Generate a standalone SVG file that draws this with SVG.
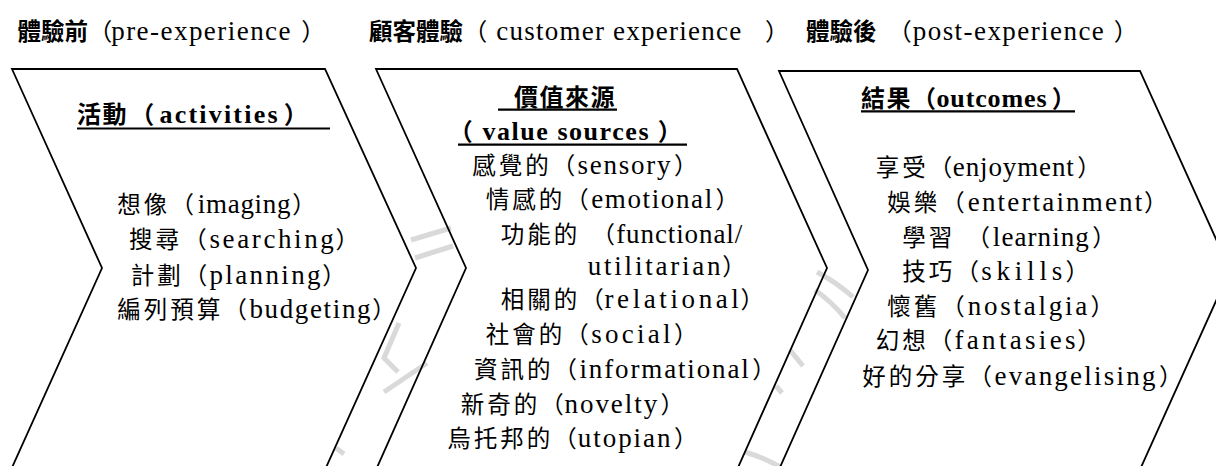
<svg xmlns="http://www.w3.org/2000/svg" width="1216" height="466" viewBox="0 0 1216 466">
<style>
text{font-family:"Noto Sans CJK TC",sans-serif;font-size:23.5px;fill:#000}
.c{font-family:"Noto Sans CJK TC",sans-serif;font-size:23.5px;letter-spacing:3px}
.p{font-family:"Noto Sans CJK TC",sans-serif;font-size:23.5px;letter-spacing:0}
.l{font-family:"Liberation Serif","Times New Roman",serif;font-size:27px}
.hc{font-family:"Noto Sans CJK TC",sans-serif;font-size:23.5px;font-weight:bold}
.hp{font-family:"Noto Sans CJK TC",sans-serif;font-size:24px}
.tc{font-family:"Noto Sans CJK TC",sans-serif;font-size:24px;font-weight:bold;letter-spacing:1.5px}
.tp{font-family:"Noto Sans CJK TC",sans-serif;font-size:24px;font-weight:bold}
.tl{font-family:"Liberation Serif","Times New Roman",serif;font-size:26px;font-weight:bold}
.shape{fill:none;stroke:#000;stroke-width:1.8;stroke-linejoin:miter}
.ul{stroke:#000;stroke-width:2.2}
.wm{fill:none;stroke:#d9d9d9;stroke-width:5}
</style>
<rect width="1216" height="466" fill="#fff"/>
<g id="watermark">
<path class="wm" d="M411,240 L451,228"/>
<path class="wm" d="M415,258 L453,246"/>
<path class="wm" d="M399,323 L384,358 L398,372"/>
<path class="wm" d="M384,392 L427,363"/>
<path class="wm" d="M336,448 L344,454"/>
<path class="wm" d="M817,272 Q836,282 853,297"/>
<path class="wm" d="M815,290 Q832,302 845,318"/>
<path class="wm" d="M790,350 L803,366"/>
<path class="wm" d="M776,386 L782,393"/>
<path class="wm" d="M745,452 Q765,458 780,467"/>
</g>
<g id="connectors"></g>
<g id="headings">
<text y="39.5"><tspan class="hc" x="17.5">體驗前</tspan><tspan class="hp" x="88.2">（</tspan><tspan class="hp" x="301.3">）</tspan></text>
<text class="l" x="111.2" y="39.5" textLength="179.3" lengthAdjust="spacing">pre-experience</text>
<text y="39.5"><tspan class="hc" x="369">顧客體驗</tspan><tspan class="hp" x="463.2">（</tspan><tspan class="hp" x="765">）</tspan></text>
<text class="l" x="496.2" y="39.5" textLength="245" lengthAdjust="spacing">customer experience</text>
<text y="39.5"><tspan class="hc" x="806">體驗後</tspan><tspan class="hp" x="887.8">（</tspan><tspan class="hp" x="1113.8">）</tspan></text>
<text class="l" x="912.8" y="39.5" textLength="191" lengthAdjust="spacing">post-experience</text>
</g>
<g id="node-activities">
<path class="shape" d="M10,472 L102,268 L12,69 L325,69 L416,268 L324,472"/>
<text y="123.3"><tspan class="tc" x="77">活動</tspan><tspan class="tp" x="130.3">（</tspan><tspan class="tp" x="283.8">）</tspan></text>
<text class="tl" x="159.5" y="123.3" textLength="118" lengthAdjust="spacing">activities</text>
<line class="ul" x1="77" y1="128.5" x2="330" y2="128.5"/>
<text y="213"><tspan class="c" x="117.3">想像</tspan><tspan class="p" x="170.4">（</tspan><tspan class="p" x="292.2">）</tspan></text>
<text class="l" x="197.8" y="213" textLength="92.7" lengthAdjust="spacing">imaging</text>
<text y="248"><tspan class="c" x="129">搜尋</tspan><tspan class="p" x="183.2">（</tspan><tspan class="p" x="335.6">）</tspan></text>
<text class="l" x="209.5" y="248" textLength="124.3" lengthAdjust="spacing">searching</text>
<text y="284"><tspan class="c" x="130.7">計劃</tspan><tspan class="p" x="183.8">（</tspan><tspan class="p" x="322.2">）</tspan></text>
<text class="l" x="209.5" y="284" textLength="111" lengthAdjust="spacing">planning</text>
<text y="318"><tspan class="c" x="117.3">編列預算</tspan><tspan class="p" x="223.4">（</tspan><tspan class="p" x="372.2">）</tspan></text>
<text class="l" x="249.5" y="318" textLength="121" lengthAdjust="spacing">budgeting</text>
</g>
<g id="node-value-sources">
<path class="shape" d="M375,472 L466,268 L376,69 L737,69 L827,268 L736,472"/>
<text y="106"><tspan class="tc" x="514">價值來源</tspan></text>
<line class="ul" x1="498" y1="109.7" x2="617" y2="109.7"/>
<text y="140"><tspan class="tp" x="448.8">（</tspan><tspan class="tp" x="657.8">）</tspan></text>
<text class="tl" x="482.5" y="140" textLength="166" lengthAdjust="spacing">value sources</text>
<line class="ul" x1="458" y1="144.7" x2="687" y2="144.7"/>
<text y="174.3"><tspan class="c" x="472.3">感覺的</tspan><tspan class="p" x="551.8">（</tspan><tspan class="p" x="673.9">）</tspan></text>
<text class="l" x="577.5" y="174.3" textLength="93" lengthAdjust="spacing">sensory</text>
<text y="208.3"><tspan class="c" x="485.7">情感的</tspan><tspan class="p" x="565.2">（</tspan><tspan class="p" x="715.6">）</tspan></text>
<text class="l" x="591.2" y="208.3" textLength="121" lengthAdjust="spacing">emotional</text>
<text y="243.3"><tspan class="c" x="500.7">功能的</tspan><tspan class="p" x="591.5">（</tspan></text>
<text class="l" x="616.2" y="243.3" textLength="126" lengthAdjust="spacing">functional/</text>
<text y="275"><tspan class="p" x="722.2">）</tspan></text>
<text class="l" x="587.8" y="275" textLength="132.7" lengthAdjust="spacing">utilitarian</text>
<text y="308.3"><tspan class="c" x="500.7">相關的</tspan><tspan class="p" x="580.2">（</tspan><tspan class="p" x="740.6">）</tspan></text>
<text class="l" x="604.5" y="308.3" textLength="134.3" lengthAdjust="spacing">relational</text>
<text y="343.3"><tspan class="c" x="485.7">社會的</tspan><tspan class="p" x="565.2">（</tspan><tspan class="p" x="673.9">）</tspan></text>
<text class="l" x="591.2" y="343.3" textLength="79.3" lengthAdjust="spacing">social</text>
<text y="378.3"><tspan class="c" x="474">資訊的</tspan><tspan class="p" x="553.5">（</tspan><tspan class="p" x="752.2">）</tspan></text>
<text class="l" x="579.5" y="378.3" textLength="169.3" lengthAdjust="spacing">informational</text>
<text y="413.3"><tspan class="c" x="460.7">新奇的</tspan><tspan class="p" x="540.2">（</tspan><tspan class="p" x="660.6">）</tspan></text>
<text class="l" x="564.5" y="413.3" textLength="92.7" lengthAdjust="spacing">novelty</text>
<text y="446.7"><tspan class="c" x="447.3">烏托邦的</tspan><tspan class="p" x="553.3">（</tspan><tspan class="p" x="673.9">）</tspan></text>
<text class="l" x="577.8" y="446.7" textLength="92.7" lengthAdjust="spacing">utopian</text>
</g>
<g id="node-outcomes">
<path class="shape" d="M777,474 L868,270 L779,71 L1140,71 L1230,270 L1138,474"/>
<text y="106.7"><tspan class="tc" x="861">結果</tspan><tspan class="tp" x="912">（</tspan><tspan class="tp" x="1051.8">）</tspan></text>
<text class="tl" x="936.5" y="106.7" textLength="110" lengthAdjust="spacing">outcomes</text>
<line class="ul" x1="861" y1="111.3" x2="1075" y2="111.3"/>
<text y="176"><tspan class="c" x="875.7">享受</tspan><tspan class="p" x="928.8">（</tspan><tspan class="p" x="1077.2">）</tspan></text>
<text class="l" x="952.8" y="176" textLength="121" lengthAdjust="spacing">enjoyment</text>
<text y="211"><tspan class="c" x="887.3">娛樂</tspan><tspan class="p" x="941.2">（</tspan><tspan class="p" x="1143.9">）</tspan></text>
<text class="l" x="967.8" y="211" textLength="174.4" lengthAdjust="spacing">entertainment</text>
<text y="246"><tspan class="c" x="902.3">學習</tspan><tspan class="p" x="966.5">（</tspan><tspan class="p" x="1092.2">）</tspan></text>
<text class="l" x="992.8" y="246" textLength="96" lengthAdjust="spacing">learning</text>
<text y="280"><tspan class="c" x="902.3">技巧</tspan><tspan class="p" x="955.4">（</tspan><tspan class="p" x="1065.6">）</tspan></text>
<text class="l" x="981.2" y="280" textLength="81" lengthAdjust="spacing">skills</text>
<text y="315"><tspan class="c" x="887.3">懷舊</tspan><tspan class="p" x="941.2">（</tspan><tspan class="p" x="1090.6">）</tspan></text>
<text class="l" x="967.8" y="315" textLength="119.4" lengthAdjust="spacing">nostalgia</text>
<text y="349.3"><tspan class="c" x="875.7">幻想</tspan><tspan class="p" x="928.8">（</tspan><tspan class="p" x="1077.2">）</tspan></text>
<text class="l" x="954.5" y="349.3" textLength="121" lengthAdjust="spacing">fantasies</text>
<text y="385"><tspan class="c" x="862.3">好的分享</tspan><tspan class="p" x="968.4">（</tspan><tspan class="p" x="1158.9">）</tspan></text>
<text class="l" x="994.5" y="385" textLength="161" lengthAdjust="spacing">evangelising</text>
</g>
</svg>
